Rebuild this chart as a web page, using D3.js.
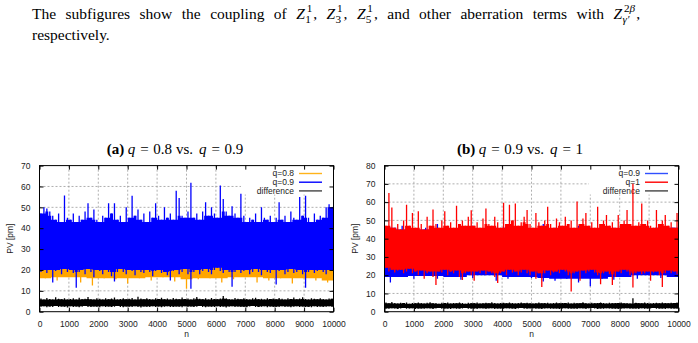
<!DOCTYPE html>
<html>
<head>
<meta charset="utf-8">
<script src="https://cdn.jsdelivr.net/npm/d3@7"></script>
<style>
body { margin: 0; background: #fff; }
svg { display: block; }
text { font-family: "Liberation Sans", Arial, sans-serif; white-space: pre; }
text.serif { font-family: "Liberation Serif", "Times New Roman", serif; }
</style>
</head>
<body>
<div id="chart"></div>
<script>
// x axis: sample index n, binned in blocks (max/min of each block)
const nTicks = d3.range(0, 10001, 1000);
const yTicksA = d3.range(0, 71, 10);
const yTicksB = d3.range(0, 81, 10);

// (a) q = 0.8 vs q = 0.9
const a08Hi = [40,39,41,38,40,42,39,40,38,41,40,39,42,40,38,41,39,40,41,38,40,39,41,40,39];
const a08Lo = [16,15,16.5,14,12.5,16,15.5,13.5,16,15, 16.5,14.5,11,15.5,16,14,15.5,16.5,14,15,
  16,13.5,16,15,14,13,15.5,16,14.5,15.5, 16.5,15,13.5,16,15,14,16,15.5,13.5,15,
  16,14.5,15.5,14,10,15.5,16,14,15,16.5, 14.5,8.8,15,16,14.5,15.5,16.5,15,14,16,
  16.5,15.5,14.5,16,15,9.5,15,16,14.5,15.5, 16,14,15.5,16.5,15,13.5,16,15,14.5,16,
  11,15.5,16,14,15,16.5,14.5,15,16,14, 10.5,15,16,14.5,15.5,16,15,14,16,15.5];
const a09Hi = [47,50,49.5,48,46,44,47,43,55.7,45, 44,47,43,46,44,48,52,45,49,44,
  43,46,45,52,47,52,44,46,43,50, 45,55.5,46,49,44,47,43,48,45,52,
  46,44,50,45,47,44,58,54.5,46,45, 48,61.8,45,47,44,48,52.5,46,50,47,
  45,60.5,54,48,46,50.5,47,45,56.5,46, 43,45,44,47,43,50,45,44,46,43,
  45,52.5,44,46,43,48,45,44,55,46, 55.5,45,43,47,44,46,45,50,51.5,50];
const a09Lo = [19,20,18.5,20,14,19.5,20,18,20.5,19, 20,18.5,11.5,19,20,18,20.5,19,16.5,20,
  19.5,18,20,19,17,14.5,19,20.5,19,18, 20,19.5,17.5,20,19,18.5,20,19,17,19.5,
  20,18.5,19,17.5,15,19.5,20,18,19,20.5, 18,11,19,20,18,19.5,20.5,19,18,20,
  21,19.5,18.5,20,19,12,19,20,18.5,19.5, 20,18,19,20.5,19,17.5,20,19,18.5,20,
  13,19.5,20,18,19,20.5,18.5,19,20,18, 11.5,19,20,18.5,19.5,20,19,18,20,19.5];
const aDiffHi = [6.3,5.9,6.6,6.1,5.8,6.9,6.2,6.0,6.5,5.9, 6.1,6.4,5.8,6.7,6.0,6.2,7.0,6.1,5.9,6.4,
  6.2,5.8,6.5,6.0,6.3,6.8,5.9,6.1,6.4,6.0, 6.2,6.6,5.9,7.2,6.3,6.0,6.5,6.1,5.8,6.4,
  6.1,6.7,6.0,6.3,5.9,6.6,6.2,6.0,6.8,6.1, 6.3,5.9,6.5,7.1,6.2,6.0,6.4,5.8,6.6,6.1,
  6.0,6.3,7.5,6.4,6.1,5.9,6.6,6.2,6.0,6.5, 6.1,5.8,6.4,6.7,6.0,6.2,5.9,6.5,6.1,6.3,
  6.0,6.6,6.2,5.9,6.4,6.1,6.8,6.0,6.3,6.9, 6.1,5.9,6.5,6.2,6.0,6.4,6.1,5.8,6.3,6.2];
const aDiffLo = [2.4,2.6,2.1,2.5,2.3,2.7,2.2,2.5,2.4,2.0, 2.6,2.3,2.5,2.1,2.4,2.7,2.3,2.2,2.5,2.4,
  2.1,2.6,2.3,2.5,2.2,2.4,2.7,2.3,2.1,2.5, 2.4,2.2,2.6,2.3,2.0,2.5,2.4,2.2,2.6,2.3,
  2.5,2.1,2.4,2.6,2.3,2.2,2.5,2.4,2.1,2.6, 2.3,2.5,2.2,2.4,2.7,2.3,2.1,2.5,2.4,2.2,
  2.6,2.3,2.5,2.0,2.4,2.6,2.2,2.5,2.3,2.4, 2.1,2.5,2.7,2.3,2.2,2.4,2.6,2.1,2.5,2.3,
  2.4,2.2,2.6,2.3,2.5,2.1,2.4,2.6,2.2,2.5, 2.3,2.4,2.1,2.6,2.3,2.5,2.2,2.4,2.6,2.3];

// (b) q = 0.9 vs q = 1
const b09Hi = [46,47,45,46,48,45,46,47,45,46,47,46,45,48,46,45,47,46,45,46,47,45,46,47,46];
const b09Lo = [16,19,18,19.5,18,19,17.5,18.5,20,17, 18,19,18.5,16.5,17,18,16,14,18,17.5,
  19,18,20,18.5,19,17.5,16.5,18,19,18.5, 16,18,17.5,19,18,19.5,18,17.5,14.5,18,
  19,17.5,19,18,19.5,17,18,19,17.5,18, 19,16.5,18,12.5,18,19,17.5,18,19.5,18,
  20,19,18,11,18.5,19,16,20,19,20, 20.5,19,18,13.5,19,20,18.5,14,16,19,
  18,19.5,19,17.5,13,18,19,18,17.5,18.5, 14.5,18,19,17.5,13,18,19,17.5,18,19];
const b1Hi = [47,65,57,46,48,45,50,58.5,47,54, 46,55,48,45,52,47,56,48,46,50,
  55,47,49,46,58,48,50,47,52,55.5, 47,49,46,51,56.5,48,47,52,49,46,
  59.7,48,58.5,50,59.3,47,49,52,55.7,48, 46,54,49,47,50,57.5,48,46,51,49,
  47,52,48,50,46,60.3,48,51,54,47, 49,46,57.5,48,50,53,47,49,46,53,
  48,50,55.7,48,70,47,49,59.3,48,50, 47,46,55.7,48,50,53,47,49,46,54];
const b1Lo = [24,22,23,21.5,22.5,23,21,22,23.5,21, 22,20,22.5,18,21,22,19,14.6,22,21.5,
  23,20,22,21,22.5,19,17.4,21,22,20, 17,22,21,22.5,20.5,22,21,19,15.7,21,
  22,20,23,21.5,22,20,21.5,23,21,20, 22,18,21,13.5,21,22.5,20,21.5,22,21,
  23,22,20,11,21,22,17,22.5,21,22, 23,21.5,20,15,21,22,20.5,14.6,19,22,
  21,23,22,20,13.3,21,22,20.5,21,22, 17,21.5,22,20,13.5,21,22.5,21,22,20.5];
const bDiffHi = [5.0,4.6,5.3,4.8,4.5,4.9,4.7,5.1,4.4,4.8, 4.6,5.0,4.7,4.5,4.9,5.2,4.6,4.8,4.4,4.9,
  4.7,5.0,4.5,4.8,4.6,5.1,4.7,4.4,4.9,4.6, 4.8,5.0,4.5,4.7,4.9,4.6,5.2,4.8,4.5,4.7,
  4.9,4.6,5.0,4.8,4.5,4.7,5.1,4.6,4.9,4.7, 4.5,4.8,5.0,4.6,4.7,4.9,4.5,4.8,5.1,4.6,
  4.8,4.7,5.0,4.5,4.9,4.6,4.8,5.2,4.7,4.5, 4.9,4.6,4.8,5.0,4.7,4.5,4.9,4.6,4.8,4.7,
  5.0,4.6,4.8,4.5,7.3,4.9,4.7,4.6,5.0,4.8, 4.5,4.7,4.9,4.6,5.1,4.8,4.6,4.9,4.7,5.0];
const bDiffLo = [1.8,1.6,1.9,1.7,1.5,1.8,2.0,1.6,1.7,1.9, 1.5,1.8,1.7,1.6,1.9,1.8,1.5,1.7,2.0,1.6,
  1.8,1.7,1.5,1.9,1.6,1.8,1.7,2.0,1.6,1.8, 1.7,1.5,1.9,1.8,1.6,1.7,1.9,1.5,1.8,1.7,
  1.6,1.9,1.7,1.8,1.5,1.7,2.0,1.6,1.8,1.7, 1.9,1.6,1.7,1.5,1.8,1.9,1.6,1.7,1.8,1.5,
  1.7,1.9,1.6,1.8,1.7,1.5,1.9,1.7,1.6,1.8, 2.0,1.7,1.5,1.8,1.6,1.9,1.7,1.8,1.6,1.5,
  1.8,1.7,1.9,1.6,1.8,1.7,1.5,1.9,1.6,1.8, 1.7,2.0,1.6,1.8,1.7,1.5,1.9,1.6,1.8,1.7];

const width = 698, height = 343;
const svg = d3.select("#chart").append("svg")
    .attr("width", width)
    .attr("height", height);

// writes a run of text pieces (some with stacked sup/sub scripts);
// if `end` is given the spaces are stretched so the line is justified
function richLine(g, x0, yb, size, parts, end) {
    const draw = (gg, ws) => {
        let cx = x0;
        const put = (x, y, fs, pieces, sp) => {
            const t = gg.append("text").attr("class", "serif").attr("x", x).attr("y", y)
                .attr("font-size", fs).attr("word-spacing", sp);
            pieces.forEach(p => t.append("tspan").style("font-style", p.it ? "italic" : "normal").text(p.t));
            return t.node().getComputedTextLength();
        };
        parts.forEach(p => {
            if (p.sup) {
                const s = size * 0.72;
                const w1 = put(cx + 1.8, yb - size * 0.42, s, p.sup, 0);
                const w2 = put(cx + 0.3, yb + size * 0.3, s, p.sub, 0);
                cx += Math.max(w1 + 1.8, w2 + 0.3) + 1;
            } else {
                cx += put(cx, yb, size, [p], ws);
            }
        });
        return cx;
    };
    let ws = 0;
    if (end) {
        const tmp = g.append("g");
        const natural = draw(tmp, 0);
        tmp.remove();
        const spaces = d3.sum(parts, p => p.t ? (p.t.match(/ /g) || []).length : 0);
        ws = (end - natural) / spaces;
    }
    draw(g, ws);
}

// laid-out title pieces with explicit gaps, centred on cx
function title(g, cx, yb, pieces) {
    const grp = g.append("g");
    let x = 0;
    pieces.forEach(p => {
        x += p.gap || 0;
        const t = grp.append("text").attr("class", "serif").attr("x", x).attr("y", yb)
            .attr("font-size", 15)
            .style("font-weight", p.b ? "bold" : "normal")
            .style("font-style", p.it ? "italic" : "normal")
            .text(p.t);
        x += t.node().getComputedTextLength();
    });
    grp.attr("transform", `translate(${cx - x / 2},0)`);
}

const cap = svg.append("g");
richLine(cap, 32, 18.5, 15.5, [
    {t: "The subfigures show the coupling of "},
    {t: "Z", it: true}, {sup: [{t: "1"}], sub: [{t: "1"}]}, {t: ", "},
    {t: "Z", it: true}, {sup: [{t: "1"}], sub: [{t: "3"}]}, {t: ", "},
    {t: "Z", it: true}, {sup: [{t: "1"}], sub: [{t: "5"}]},
    {t: ", and other aberration terms with "},
    {t: "Z", it: true}, {sup: [{t: "2"}, {t: "β", it: true}], sub: [{t: "γ′", it: true}]},
    {t: ","}
], 640);
richLine(cap, 32, 39.5, 15.5, [{t: "respectively."}]);

function drawSeries(g, x, y, s) {
    const n = s.hi.length, w = 10000 / n;
    const at = i => Math.min(n - 1, Math.max(0, i));
    // solid core of the trace, with the block extremes as thin spikes
    const core = s.hi.map((h, i) => ({
        n: i * w,
        top: Math.min(h, s.hi[at(i - 1)], s.hi[at(i + 1)]),
        bot: Math.max(s.lo[i], s.lo[at(i - 1)], s.lo[at(i + 1)])
    }));
    core.push({n: 10000, top: core[n - 1].top, bot: core[n - 1].bot});
    const area = d3.area()
        .curve(d3.curveStepAfter)
        .x(d => x(d.n))
        .y0(d => y(d.bot))
        .y1(d => y(d.top));
    g.append("path").attr("d", area(core)).attr("fill", s.color);
    g.selectAll(null)
        .data(s.hi.map((h, i) => ({n: (i + 0.5) * w, h, l: s.lo[i]})))
        .join("line")
        .attr("x1", d => x(d.n)).attr("x2", d => x(d.n))
        .attr("y1", d => y(d.l)).attr("y2", d => y(d.h))
        .attr("stroke", s.color)
        .attr("stroke-width", 1.3);
}

function panel(cfg) {
    const g = svg.append("g");
    const x = d3.scaleLinear().domain([0, 10000]).range([cfg.x0, cfg.x1]);
    const y = d3.scaleLinear().domain([0, cfg.yMax]).range([311.7, 165.6]);

    title(g, cfg.titleX, 154.3, cfg.title);

    // grid
    const grid = g.append("g").attr("stroke", "#9a9a9a").attr("stroke-width", 0.8)
        .attr("stroke-dasharray", "2,2");
    grid.selectAll(null).data(nTicks.slice(1, -1)).join("line")
        .attr("x1", d => x(d)).attr("x2", d => x(d))
        .attr("y1", y.range()[0]).attr("y2", y.range()[1]);
    grid.selectAll(null).data(cfg.yTicks.slice(1, -1)).join("line")
        .attr("x1", cfg.x0).attr("x2", cfg.x1)
        .attr("y1", d => y(d)).attr("y2", d => y(d));

    // key box (opaque)
    g.append("rect")
        .attr("x", cfg.keyX).attr("y", y.range()[1])
        .attr("width", cfg.x1 - cfg.keyX).attr("height", 194.5 - y.range()[1])
        .attr("fill", "#fff");
    cfg.series.forEach((s, i) => {
        const ky = 173.5 + i * 8.7;
        g.append("text").attr("x", cfg.keyText).attr("y", ky + 2.9)
            .attr("text-anchor", "end").attr("font-size", 8.5).attr("fill", "#222")
            .text(s.name);
        g.append("line").attr("x1", cfg.keyText + 5).attr("x2", cfg.keyText + 28)
            .attr("y1", ky).attr("y2", ky)
            .attr("stroke", s.key || s.color).attr("stroke-width", 1.4);
    });

    // traces
    const clipId = "clip" + cfg.id;
    svg.append("clipPath").attr("id", clipId).append("rect")
        .attr("x", cfg.x0).attr("y", y.range()[1])
        .attr("width", cfg.x1 - cfg.x0).attr("height", y.range()[0] - y.range()[1]);
    const traces = g.append("g").attr("clip-path", `url(#${clipId})`);
    cfg.series.forEach(s => drawSeries(traces, x, y, s));

    // frame and inward ticks on all sides
    g.append("rect")
        .attr("x", cfg.x0).attr("y", y.range()[1])
        .attr("width", cfg.x1 - cfg.x0).attr("height", y.range()[0] - y.range()[1])
        .attr("fill", "none").attr("stroke", "#000").attr("stroke-width", 1);

    const fmt = d3.format("d");
    const xAxis = d3.axisBottom(x).tickValues(nTicks).tickFormat(fmt).tickSizeInner(-4).tickSizeOuter(0).tickPadding(9);
    const yAxis = d3.axisLeft(y).tickValues(cfg.yTicks).tickFormat(fmt).tickSizeInner(-4).tickSizeOuter(0).tickPadding(9);
    const ax = g.append("g").attr("transform", `translate(0,${y.range()[0]})`).call(xAxis);
    g.append("g").attr("transform", `translate(${cfg.x0},0)`).call(yAxis);
    g.append("g").attr("transform", `translate(0,${y.range()[1]})`)
        .call(d3.axisTop(x).tickValues(nTicks).tickSizeInner(-4).tickSizeOuter(0).tickFormat(""));
    g.append("g").attr("transform", `translate(${cfg.x1},0)`)
        .call(d3.axisRight(y).tickValues(cfg.yTicks).tickSizeInner(-4).tickSizeOuter(0).tickFormat(""));
    g.selectAll(".domain").remove();
    g.selectAll(".tick text").attr("font-size", 8.5).attr("fill", "#222")
        .attr("font-family", '"Liberation Sans", Arial, sans-serif');
    ax.selectAll(".tick text").attr("dy", "0.71em");

    g.append("text").attr("x", (cfg.x0 + cfg.x1) / 2).attr("y", 336.5)
        .attr("text-anchor", "middle").attr("font-size", 8.5).attr("fill", "#222").text("n");
    g.append("text")
        .attr("transform", `translate(${cfg.yLabelX},${(y.range()[0] + y.range()[1]) / 2}) rotate(-90)`)
        .attr("text-anchor", "middle").attr("font-size", 8.5).attr("fill", "#222").text("PV [pm]");
}

panel({
    id: "a", x0: 39.5, x1: 333.5, yMax: 70, yTicks: yTicksA, titleX: 175,
    title: [{t: "(a)", b: true}, {t: "q", it: true, gap: 3.5}, {t: "=", gap: 5}, {t: "0.8", gap: 4.5},
            {t: "vs.", gap: 4}, {t: "q", it: true, gap: 6}, {t: "=", gap: 5}, {t: "0.9", gap: 4.5}],
    keyX: 241, keyText: 294, yLabelX: 13,
    series: [
        {name: "q=0.8", color: "#ffa500", key: "#ffb31a", hi: a08Hi, lo: a08Lo},
        {name: "q=0.9", color: "#0000ff", hi: a09Hi, lo: a09Lo},
        {name: "difference", color: "#000", key: "#444", hi: aDiffHi, lo: aDiffLo}
    ]
});

panel({
    id: "b", x0: 384.5, x1: 678.5, yMax: 80, yTicks: yTicksB, titleX: 520,
    title: [{t: "(b)", b: true}, {t: "q", it: true, gap: 3.5}, {t: "=", gap: 5}, {t: "0.9", gap: 4.5},
            {t: "vs.", gap: 4}, {t: "q", it: true, gap: 6}, {t: "=", gap: 5}, {t: "1", gap: 4.5}],
    keyX: 589, keyText: 640, yLabelX: 358,
    series: [
        {name: "q=0.9", color: "#0000ff", key: "#3050ff", hi: b09Hi, lo: b09Lo},
        {name: "q=1", color: "#ff0000", hi: b1Hi, lo: b1Lo},
        {name: "difference", color: "#000", key: "#444", hi: bDiffHi, lo: bDiffLo}
    ]
});
</script>
</body>
</html>
